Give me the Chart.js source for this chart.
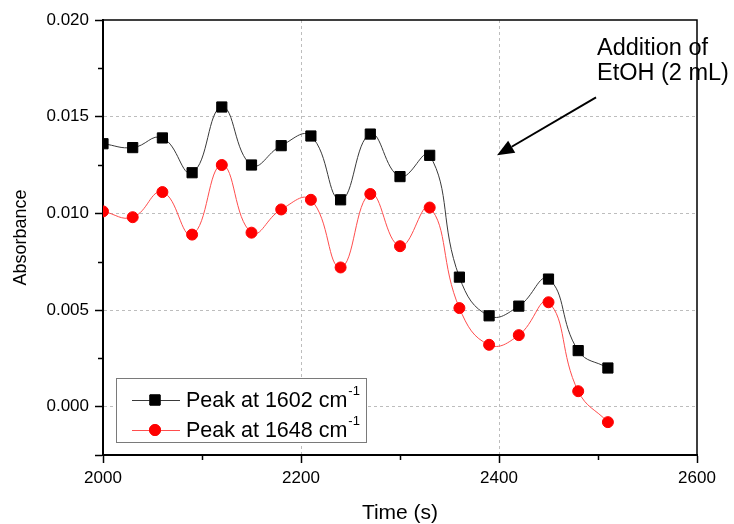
<!DOCTYPE html>
<html>
<head>
<meta charset="utf-8">
<script src="https://cdn.jsdelivr.net/npm/chart.js@4/dist/chart.umd.min.js"></script>
<style>
html, body { margin: 0; padding: 0; background: #fff; }
#wrap { width: 734px; height: 524px; position: relative; }
</style>
</head>
<body>
<div id="wrap"><canvas id="absChart"></canvas></div>
<script>

// time points (s)
const times = [2000, 2030, 2060, 2090, 2120, 2150, 2180, 2210, 2240,
               2270, 2300, 2330, 2360, 2390, 2420, 2450, 2480, 2510];

// absorbance at 1602 cm-1
const peak1602 = [0.0136, 0.0134, 0.0139, 0.0121, 0.0155, 0.0125, 0.0135, 0.0140, 0.0107,
                  0.0141, 0.0119, 0.0130, 0.0067, 0.0047, 0.0052, 0.0066, 0.0029, 0.0020];

// absorbance at 1648 cm-1
const peak1648 = [0.0101, 0.0098, 0.0111, 0.0089, 0.0125, 0.0090, 0.0102, 0.0107, 0.0072,
                  0.0110, 0.0083, 0.0103, 0.0051, 0.0032, 0.0037, 0.0054, 0.0008, -0.0008];

const seriesNames = ['Peak at 1602 cm', 'Peak at 1648 cm'];

const xMajorTicks = [2000, 2200, 2400, 2600];
const xMinorTicks = [2100, 2300, 2500];
const yMajorTicks = [0.000, 0.005, 0.010, 0.015, 0.020];
const yMinorTicks = [0.0025, 0.0075, 0.0125, 0.0175];

const noteLines = ['Addition of', 'EtOH (2 mL)'];
const noteAnchor = { x: 2498, y: 0.0160 };   // arrow tail
const noteTarget = { x: 2398, y: 0.0130 };   // arrow head

const FONT = "'Liberation Sans', Arial, sans-serif";
const GRID = '#bdbdbd';

function toPoints(xs, ys){
    return xs.map((x, i) => ({ x: x, y: ys[i] }));
}

// minor ticks, top/right frame
const framePlugin = {
    id: 'frame',
    afterDraw(chart){
        const ctx = chart.ctx;
        const area = chart.chartArea;
        const xs = chart.scales.x;
        const ys = chart.scales.y;

        ctx.save();
        ctx.strokeStyle = '#000';
        ctx.lineWidth = 1.5;
        ctx.beginPath();
        ctx.moveTo(area.left, area.top);
        ctx.lineTo(area.right, area.top);
        ctx.lineTo(area.right, area.bottom);
        ctx.stroke();

        ctx.lineWidth = 1.5;
        ctx.beginPath();
        xMinorTicks.forEach(v => {
            const px = Math.round(xs.getPixelForValue(v)) + 0.5;
            ctx.moveTo(px, area.bottom);
            ctx.lineTo(px, area.bottom + 5);
        });
        yMinorTicks.forEach(v => {
            const py = Math.round(ys.getPixelForValue(v)) + 0.5;
            ctx.moveTo(area.left, py);
            ctx.lineTo(area.left - 5, py);
        });
        ctx.stroke();
        ctx.restore();
    }
};

// legend box inside the plot
const legendPlugin = {
    id: 'boxLegend',
    afterDraw(chart){
        const ctx = chart.ctx;
        const bx = 116, by = 378, bw = 250, bh = 64;

        ctx.save();
        ctx.fillStyle = '#fff';
        ctx.fillRect(bx, by, bw, bh);
        ctx.strokeStyle = '#7a7a7a';
        ctx.lineWidth = 1;
        ctx.strokeRect(bx + 0.5, by + 0.5, bw, bh);

        chart.data.datasets.forEach((ds, i) => {
            const cy = by + 22 + i * 30;
            ctx.strokeStyle = ds.borderColor;
            ctx.lineWidth = 1;
            ctx.beginPath();
            ctx.moveTo(bx + 16, cy + 0.5);
            ctx.lineTo(bx + 64, cy + 0.5);
            ctx.stroke();

            Chart.helpers.drawPoint(ctx, {
                pointStyle: ds.pointStyle,
                radius: ds.pointRadius,
                borderWidth: 1,
                rotation: 0
            }, bx + 39, cy);
            ctx.fillStyle = ds.pointBackgroundColor;
            ctx.strokeStyle = ds.pointBorderColor;
            ctx.fill();
            ctx.stroke();

            ctx.fillStyle = '#000';
            ctx.font = '21.5px ' + FONT;
            ctx.textBaseline = 'middle';
            ctx.textAlign = 'left';
            ctx.fillText(ds.label, bx + 70, cy + 1);
            const w = ctx.measureText(ds.label).width;
            ctx.font = '13px ' + FONT;
            ctx.fillText('-1', bx + 70 + w + 1, cy - 9);
        });
        ctx.restore();
    }
};

// text + arrow
const notePlugin = {
    id: 'note',
    afterDraw(chart){
        const ctx = chart.ctx;
        const xs = chart.scales.x;
        const ys = chart.scales.y;
        const x0 = xs.getPixelForValue(noteAnchor.x);
        const y0 = ys.getPixelForValue(noteAnchor.y);
        const x1 = xs.getPixelForValue(noteTarget.x);
        const y1 = ys.getPixelForValue(noteTarget.y);

        ctx.save();
        ctx.fillStyle = '#000';
        ctx.font = '23.5px ' + FONT;
        ctx.textAlign = 'left';
        ctx.textBaseline = 'alphabetic';
        ctx.fillText(noteLines[0], 597, 55);
        ctx.fillText(noteLines[1], 597, 80);

        const ang = Math.atan2(y1 - y0, x1 - x0);
        const head = 17, half = 7;
        const hx = x1 - head * Math.cos(ang);
        const hy = y1 - head * Math.sin(ang);

        ctx.strokeStyle = '#000';
        ctx.lineWidth = 2;
        ctx.beginPath();
        ctx.moveTo(x0, y0);
        ctx.lineTo(hx, hy);
        ctx.stroke();

        ctx.beginPath();
        ctx.moveTo(x1, y1);
        ctx.lineTo(hx + half * Math.sin(ang), hy - half * Math.cos(ang));
        ctx.lineTo(hx - half * Math.sin(ang), hy + half * Math.cos(ang));
        ctx.closePath();
        ctx.fill();
        ctx.restore();
    }
};

const ctx = document.getElementById('absChart');

const absChart = new Chart(ctx, {

    type: 'line',

    data: {
        datasets: [
            {
                label: seriesNames[0],
                data: toPoints(times, peak1602),
                borderColor: '#3a3a3a',
                borderWidth: 1,
                tension: 0.45,
                pointStyle: 'rect',
                pointRadius: 7.2,
                pointBackgroundColor: '#000',
                pointBorderColor: '#000',
                pointBorderWidth: 1
            },
            {
                label: seriesNames[1],
                data: toPoints(times, peak1648),
                borderColor: '#ff4d4d',
                borderWidth: 1,
                tension: 0.45,
                pointStyle: 'circle',
                pointRadius: 5.5,
                pointBackgroundColor: '#ff0000',
                pointBorderColor: '#ff0000',
                pointBorderWidth: 1
            }
        ]
    },

    options: {
        responsive: true,
        maintainAspectRatio: false,
        animation: false,
        layout: { padding: { top: 20, right: 37, left: 0, bottom: 0 } },
        plugins: {
            legend: { display: false },
            tooltip: { enabled: false }
        },
        scales: {
            x: {
                type: 'linear',
                min: 2000,
                max: 2600,
                afterBuildTicks: s => { s.ticks = xMajorTicks.map(v => ({ value: v })); },
                afterFit: s => { s.height = 69; },
                border: { display: true, color: '#000', width: 2, dash: [3, 3] },
                grid: {
                    color: c => (c.tick && c.tick.value > 2000 && c.tick.value < 2600) ? GRID : 'rgba(0,0,0,0)',
                    lineWidth: 1,
                    tickColor: '#000',
                    tickWidth: 1.5,
                    tickLength: 8
                },
                ticks: {
                    autoSkip: false,
                    maxRotation: 0,
                    padding: 5,
                    color: '#000',
                    font: { family: FONT, size: 17 },
                    callback: v => String(v)
                },
                title: {
                    display: true,
                    text: 'Time (s)',
                    color: '#000',
                    font: { family: FONT, size: 21 },
                    padding: { top: 0, bottom: -2 }
                }
            },
            y: {
                min: -0.0025,
                max: 0.020,
                afterBuildTicks: s => { s.ticks = [-0.0025].concat(yMajorTicks).map(v => ({ value: v })); },
                afterFit: s => { s.width = 103; },
                border: { display: true, color: '#000', width: 2, dash: [3, 3] },
                grid: {
                    color: c => (c.tick && c.tick.value >= 0 && c.tick.value < 0.02) ? GRID : 'rgba(0,0,0,0)',
                    lineWidth: 1,
                    tickColor: '#000',
                    tickWidth: 1.5,
                    tickLength: 8
                },
                ticks: {
                    autoSkip: false,
                    padding: 6,
                    color: '#000',
                    font: { family: FONT, size: 17 },
                    callback: v => yMajorTicks.includes(v) ? v.toFixed(3) : ''
                },
                title: {
                    display: true,
                    text: 'Absorbance',
                    color: '#000',
                    font: { family: FONT, size: 18 },
                    padding: { top: 10, bottom: 0 }
                }
            }
        }
    },

    plugins: [framePlugin, legendPlugin, notePlugin]

});

</script>
</body>
</html>
